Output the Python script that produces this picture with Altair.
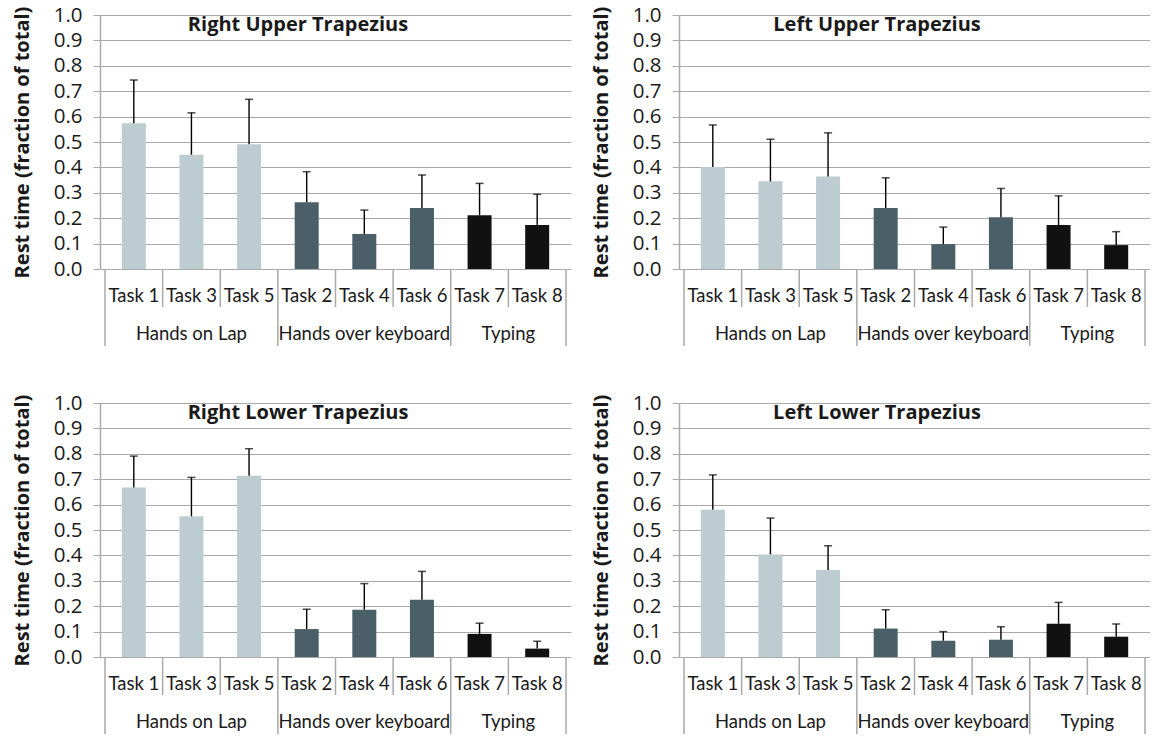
import altair as alt
import pandas as pd

# Task order on the x axis and the posture group each task belongs to
tasks = ["Task 1", "Task 3", "Task 5", "Task 2", "Task 4", "Task 6", "Task 7", "Task 8"]
groups = ["Hands on Lap"] * 3 + ["Hands over keyboard"] * 3 + ["Typing"] * 2
group_names = ["Hands on Lap", "Hands over keyboard", "Typing"]
group_colors = ["#bdccd1", "#4b5f68", "#111111"]

# Mean rest time (fraction of total) and standard deviation per muscle
rut_mean = [0.574, 0.450, 0.491, 0.263, 0.138, 0.240, 0.212, 0.173]
rut_sd = [0.170, 0.165, 0.177, 0.120, 0.094, 0.130, 0.125, 0.121]

lut_mean = [0.402, 0.345, 0.364, 0.240, 0.098, 0.204, 0.173, 0.094]
lut_sd = [0.165, 0.166, 0.172, 0.119, 0.067, 0.113, 0.115, 0.053]

rlt_mean = [0.667, 0.554, 0.714, 0.110, 0.186, 0.225, 0.091, 0.033]
rlt_sd = [0.124, 0.153, 0.106, 0.078, 0.103, 0.112, 0.042, 0.029]

llt_mean = [0.580, 0.404, 0.343, 0.112, 0.064, 0.068, 0.131, 0.080]
llt_sd = [0.137, 0.143, 0.095, 0.074, 0.036, 0.051, 0.084, 0.050]

y_ticks = [0.0, 0.1, 0.2, 0.3, 0.4, 0.5, 0.6, 0.7, 0.8, 0.9, 1.0]

W, H = 471, 254
GRID = "#a9a9a9"
LABEL_FONT = "Lato"
TICK_FONT = "Open Sans"
TEXT = "#1a1a1a"

xscale = alt.Scale(domain=[-0.5, len(tasks) - 0.5], nice=False, zero=False)
yscale = alt.Scale(domain=[0, 1], nice=False)
yaxis = alt.Axis(
    values=y_ticks,
    tickCount=len(y_ticks),
    format=".1f",
    labelOverlap=False,
    title="Rest time (fraction of total)",
    grid=True,
    gridColor=GRID,
    gridWidth=1.2,
    domainColor=GRID,
    domainWidth=1.5,
    tickColor=GRID,
    tickSize=7,
    labelFont=TICK_FONT,
    labelFontSize=20.5,
    labelColor=TEXT,
    labelPadding=11,
    titleFont="Open Sans",
    titleFontWeight="bold",
    titleFontSize=20,
    titleColor=TEXT,
    titlePadding=21,
)

# Boundaries between tasks (short) and between posture groups (long)
first_of_group = [i for i in range(len(tasks)) if i == 0 or groups[i] != groups[i - 1]]
long_pos = [p - 0.5 for p in first_of_group] + [len(tasks) - 0.5]
short_pos = [i - 0.5 for i in range(1, len(tasks)) if (i - 0.5) not in long_pos]
long_df = pd.DataFrame({"pos": long_pos})
short_df = pd.DataFrame({"pos": short_pos})


def xenc(field):
    return alt.X(field, scale=xscale, axis=None)


def yenc(field):
    return alt.Y(field, scale=yscale, axis=yaxis)


def panel(title, means, sds):
    df = pd.DataFrame({
        "task": tasks,
        "group": groups,
        "idx": list(range(len(tasks))),
        "mean": means,
        "sd": sds,
    })
    df["top"] = df["mean"] + df["sd"]

    grp = df.groupby("group", sort=False)["idx"].mean().reset_index()
    ttl_df = pd.DataFrame({"title": [title]})

    base = alt.Chart(df)

    bars = base.mark_bar(size=24).encode(
        x=xenc("idx:Q"),
        y=yenc("mean:Q"),
        color=alt.Color(
            "group:N",
            scale=alt.Scale(domain=group_names, range=group_colors),
            legend=None,
        ),
    )

    err = base.mark_rule(color="black", strokeWidth=1.4).encode(
        x=xenc("idx:Q"), y=yenc("mean:Q"), y2="top:Q"
    )
    caps = base.mark_tick(orient="horizontal", color="black", size=8, thickness=1.5).encode(
        x=xenc("idx:Q"), y=yenc("top:Q")
    )

    short_sep = alt.Chart(short_df).mark_rule(color=GRID, strokeWidth=1.5).encode(
        x=xenc("pos:Q"), y=alt.value(H), y2=alt.value(H + 38)
    )
    long_sep = alt.Chart(long_df).mark_rule(color=GRID, strokeWidth=1.5).encode(
        x=xenc("pos:Q"), y=alt.value(H), y2=alt.value(H + 77)
    )

    task_lbl = base.mark_text(
        font=LABEL_FONT, fontSize=18.5, color=TEXT, baseline="middle"
    ).encode(x=xenc("idx:Q"), y=alt.value(H + 27), text="task:N")

    grp_lbl = alt.Chart(grp).mark_text(
        font=LABEL_FONT, fontSize=18.5, color=TEXT, baseline="middle"
    ).encode(x=xenc("idx:Q"), y=alt.value(H + 65), text="group:N")

    ttl = alt.Chart(ttl_df).mark_text(
        font="Open Sans", fontWeight="bold", fontSize=20, color=TEXT, baseline="middle"
    ).encode(x=alt.value(198), y=alt.value(10), text="title:N")

    return alt.layer(bars, err, caps, short_sep, long_sep, task_lbl, grp_lbl, ttl).properties(
        width=W, height=H
    )


chart = (
    alt.concat(
        panel("Right Upper Trapezius", rut_mean, rut_sd),
        panel("Left Upper Trapezius", lut_mean, lut_sd),
        panel("Right Lower Trapezius", rlt_mean, rlt_sd),
        panel("Left Lower Trapezius", llt_mean, llt_sd),
        columns=2,
        spacing={"row": 134, "column": 108},
        bounds="flush",
    )
    .properties(padding={"left": 12, "top": 5, "right": 0, "bottom": 0}, background="white")
    .configure_view(stroke=None)
)

chart.save("out.html", embed_options={"renderer": "svg", "actions": False})
